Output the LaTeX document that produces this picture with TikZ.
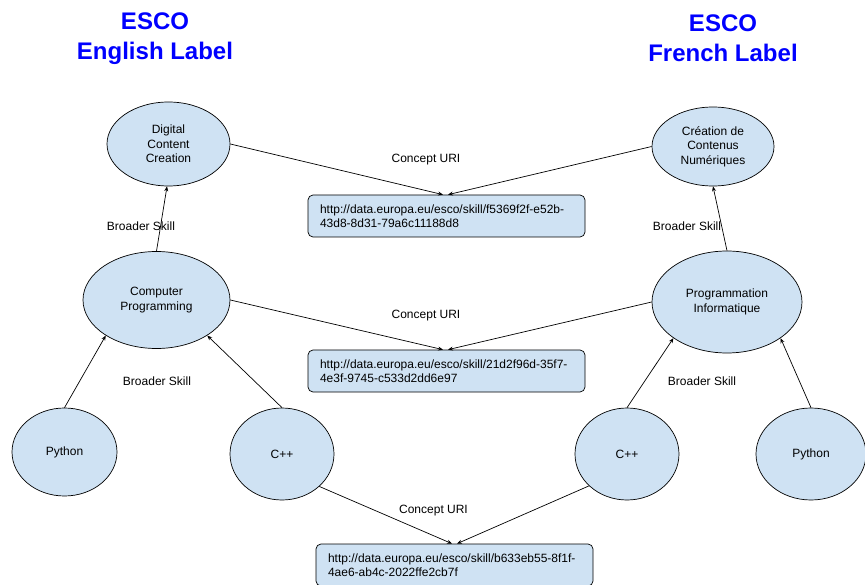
\documentclass[tikz,border=0pt]{standalone}
\usepackage{fontspec}
\setmainfont{Liberation Sans}
\usetikzlibrary{shapes.geometric,arrows.meta}
\definecolor{nodefill}{HTML}{CFE2F3}
\definecolor{titleblue}{HTML}{0000FF}
\begin{document}
\begin{tikzpicture}[x=1pt,y=-1pt,
  skill/.style={ellipse,draw,line width=0.7pt,fill=nodefill,inner sep=0pt,align=center,font=\fontsize{12}{14.5}\selectfont},
  uribox/.style={draw,line width=0.7pt,fill=nodefill,rounded corners=5pt,text width=253pt,inner xsep=12pt,inner ysep=0pt,minimum height=42pt,align=left,font=\fontsize{12}{13.5}\selectfont},
  conn/.style={line width=0.7pt,-{Stealth[length=5pt,width=4pt]}},
  lbl/.style={font=\fontsize{12}{14}\selectfont,inner sep=0pt},
  title/.style={font=\fontsize{24}{30}\selectfont\bfseries,text=titleblue,align=center,inner sep=0pt}]
\useasboundingbox (0,0) rectangle (865,585);
\node[title] (t1) at (155,38.5) {ESCO\\English Label};
\node[title] (t2) at (723,38.5) {ESCO\\French Label};

\node[skill,minimum width=123pt,minimum height=84pt] (dcc) at (168.5,144) {Digital\\Content\\Creation};
\node[skill,minimum width=122pt,minimum height=79pt] (cre) at (713,146.5) {Création de\\Contenus\\Numériques};
\node[skill,minimum width=147pt,minimum height=97pt] (cp) at (156.5,300) {Computer\\Programming};
\node[skill,minimum width=150pt,minimum height=102pt] (pi) at (727,302) {Programmation\\Informatique};
\node[skill,minimum width=105pt,minimum height=88pt] (py1) at (64.5,452) {Python};
\node[skill,minimum width=104pt,minimum height=92pt] (cpp1) at (282,454) {C++};
\node[skill,minimum width=104pt,minimum height=92pt] (cpp2) at (627,454) {C++};
\node[skill,minimum width=110pt,minimum height=92pt] (py2) at (811,454) {Python};

\node[uribox] (b1) at (446.5,216) {http://data.europa.eu/esco/skill/f5369f2f-e52b-\\43d8-8d31-79a6c11188d8};
\node[uribox] (b2) at (446.5,371) {http://data.europa.eu/esco/skill/21d2f96d-35f7-\\4e3f-9745-c533d2dd6e97};
\node[uribox] (b3) at (454.5,565) {http://data.europa.eu/esco/skill/b633eb55-8f1f-\\4ae6-ab4c-2022ffe2cb7f};

\draw[conn] (cp.north) -- (dcc.268);
\draw[conn] (pi.north) -- (cre.south);
\draw[conn] (dcc.east) -- ([xshift=-3.5pt]b1.north);
\draw[conn] (cre.west) -- ([xshift=1.5pt]b1.north);
\draw[conn] (cp.east) -- ([xshift=-3.5pt]b2.north);
\draw[conn] (pi.west) -- ([xshift=1.5pt]b2.north);
\draw[conn] (py1.north) -- (cp.215);
\draw[conn] (cpp1.north) -- (cp.-35);
\draw[conn] (cpp2.north) -- (pi.214);
\draw[conn] (py2.north) -- (pi.-34);
\draw[conn] (cpp1.-41) -- ([xshift=-2.5pt]b3.north);
\draw[conn] (cpp2.220) -- ([xshift=2.5pt]b3.north);

\node[lbl] (l1) at (426,160) {Concept URI};
\node[lbl] (l2) at (426,316) {Concept URI};
\node[lbl] (l3) at (433.5,511) {Concept URI};
\node[lbl] (l4) at (141,226) {Broader Skill};
\node[lbl] (l5) at (687,226) {Broader Skill};
\node[lbl] (l6) at (157,381) {Broader Skill};
\node[lbl] (l7) at (702,381) {Broader Skill};
\end{tikzpicture}
\end{document}
